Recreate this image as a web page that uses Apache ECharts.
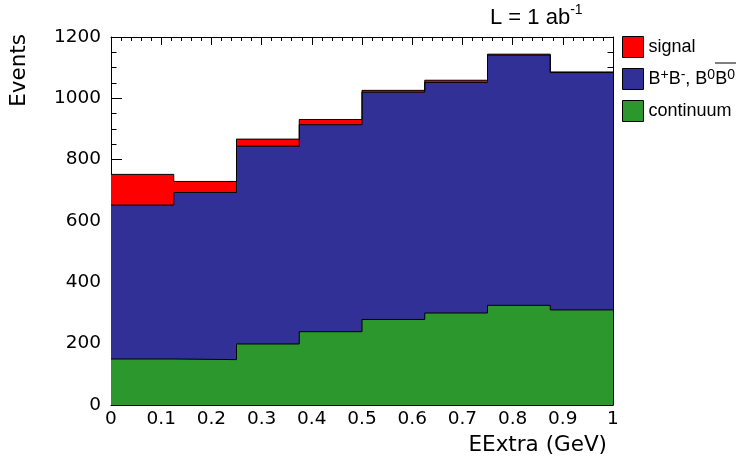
<!DOCTYPE html>
<html>
<head>
<meta charset="utf-8">
<script src="https://cdn.jsdelivr.net/npm/echarts@6/dist/echarts.min.js"></script>
<style>
  html, body { margin: 0; padding: 0; background: #fff; }
  #chart { width: 737px; height: 468px; }
</style>
</head>
<body>
<div id="chart"></div>
<script>
// Histogram bin edges in EExtra (GeV): 8 bins of width 0.125
const binEdges = [0, 0.125, 0.25, 0.375, 0.5, 0.625, 0.75, 0.875, 1];

// Events per bin for each component (stacked: continuum, B Bbar, signal)
const continuum = [150, 148, 199, 239, 279, 300, 325, 310];
const bbbar     = [502, 545, 645, 675, 741, 752, 816, 774];
const signal    = [100, 36, 23, 17, 6, 7, 3, 2];

// Axis ranges and tick spacing
const xRange = { min: 0, max: 1, interval: 0.1, minorSplit: 5 };
const yRange = { min: 0, max: 1200, interval: 200, minorSplit: 4 };

const seriesNames = ['signal', 'B⁺B⁻, B⁰B̄⁰', 'continuum'];

const RED = '#ff0000';
const BLUE = '#303096';
const GREEN = '#2c972d';

// Running sum of several per-bin arrays (stack heights)
function cumulate(...layers) {
  return layers[0].map((_, i) => layers.reduce((s, l) => s + l[i], 0));
}

// Points at each bin's lower edge, plus the closing edge at the end
function stepData(vals) {
  const pts = vals.map((v, i) => [binEdges[i], v]);
  pts.push([binEdges[binEdges.length - 1], vals[vals.length - 1]]);
  return pts;
}

function histSeries(name, vals, color) {
  return {
    name: name,
    type: 'line',
    step: 'end',
    data: stepData(vals),
    symbol: 'none',
    showSymbol: false,
    silent: true,
    lineStyle: { color: '#000', width: 1 },
    itemStyle: { color: color },
    areaStyle: { color: color, opacity: 1 },
    animation: false
  };
}

const axisFont = 'DejaVu Sans';
const legendFont = 'Liberation Sans';

function xAxisBase(pos) {
  return {
    type: 'value',
    position: pos,
    min: xRange.min, max: xRange.max, interval: xRange.interval,
    axisLine: { show: true, onZero: false, lineStyle: { color: '#000', width: 1 } },
    axisTick: { show: true, inside: true, length: 8, lineStyle: { color: '#000', width: 1 } },
    minorTick: { show: true, splitNumber: xRange.minorSplit, length: 4, lineStyle: { color: '#000', width: 1 } },
    splitLine: { show: false },
    minorSplitLine: { show: false }
  };
}

function yAxisBase(pos) {
  return {
    type: 'value',
    position: pos,
    min: yRange.min, max: yRange.max, interval: yRange.interval,
    axisLine: { show: true, onZero: false, lineStyle: { color: '#000', width: 1 } },
    axisTick: { show: true, inside: true, length: 11, lineStyle: { color: '#000', width: 1 } },
    minorTick: { show: true, splitNumber: yRange.minorSplit, length: 5.5, lineStyle: { color: '#000', width: 1 } },
    splitLine: { show: false },
    minorSplitLine: { show: false }
  };
}

const chart = echarts.init(document.getElementById('chart'), null, { renderer: 'canvas' });

const option = {
  animation: false,
  backgroundColor: '#fff',
  grid: { left: 111, right: 124, top: 37, bottom: 63, containLabel: false, outerBoundsMode: 'none' },
  title: {
    left: 490, top: 3, padding: 0,
    text: '{a|L = 1 ab}{s|-1}',
    textStyle: {
      fontWeight: 'normal',
      rich: {
        a: { fontFamily: legendFont, fontSize: 22, fontWeight: 'normal', lineHeight: 30, color: '#000' },
        s: { fontFamily: legendFont, fontSize: 14, fontWeight: 'normal', lineHeight: 10, verticalAlign: 'top', color: '#000' }
      }
    }
  },
  legend: {
    orient: 'vertical',
    left: 622, top: 36,
    padding: 0,
    itemWidth: 21, itemHeight: 21, itemGap: 10,
    icon: 'rect',
    selectedMode: false,
    data: [
      { name: seriesNames[0], itemStyle: { color: RED, borderColor: '#000', borderWidth: 1 } },
      { name: seriesNames[1], itemStyle: { color: BLUE, borderColor: '#000', borderWidth: 1 } },
      { name: seriesNames[2], itemStyle: { color: GREEN, borderColor: '#000', borderWidth: 1 } }
    ],
    formatter: function (name) {
      if (name === seriesNames[1]) {
        return '{b|B}{s|+}{b|B}{s|-}{b|, B}{s|0}{b|B}{s|0}';
      }
      return name;
    },
    textStyle: {
      fontFamily: legendFont, fontSize: 18, color: '#000',
      rich: {
        b: { fontFamily: legendFont, fontSize: 18, lineHeight: 21, color: '#000' },
        s: { fontFamily: legendFont, fontSize: 14, lineHeight: 8, verticalAlign: 'top', color: '#000' }
      }
    }
  },
  xAxis: [
    Object.assign(xAxisBase('bottom'), {
      name: 'EExtra (GeV)',
      nameLocation: 'end',
      nameGap: -6,
      nameTextStyle: {
        fontFamily: axisFont, fontSize: 21.5, color: '#000',
        align: 'right', verticalAlign: 'top', padding: [29, 0, 0, 0]
      },
      axisLabel: { show: true, color: '#000', fontFamily: axisFont, fontSize: 18.5, margin: 5 }
    }),
    Object.assign(xAxisBase('top'), { axisLabel: { show: false } })
  ],
  yAxis: [
    Object.assign(yAxisBase('left'), {
      name: 'Events',
      nameLocation: 'end',
      nameRotate: 90,
      nameGap: 3,
      nameTextStyle: {
        fontFamily: axisFont, fontSize: 21.5, color: '#000',
        align: 'right', verticalAlign: 'bottom', padding: [0, 0, 81, 0]
      },
      axisLabel: {
        show: true, color: '#000', fontFamily: axisFont, fontSize: 18.5, margin: 10,
        formatter: function (v) { return String(v); }
      }
    }),
    Object.assign(yAxisBase('right'), { axisLabel: { show: false } })
  ],
  series: [
    histSeries(seriesNames[0], cumulate(continuum, bbbar, signal), RED),
    histSeries(seriesNames[1], cumulate(continuum, bbbar), BLUE),
    histSeries(seriesNames[2], continuum, GREEN)
  ],
  graphic: [
    // bar over the second B in the legend label
    { type: 'line', silent: true, z: 100,
      shape: { x1: 715, y1: 63, x2: 736, y2: 63 },
      style: { stroke: '#000', lineWidth: 1 } }
  ]
};

chart.setOption(option);
</script>
</body>
</html>
